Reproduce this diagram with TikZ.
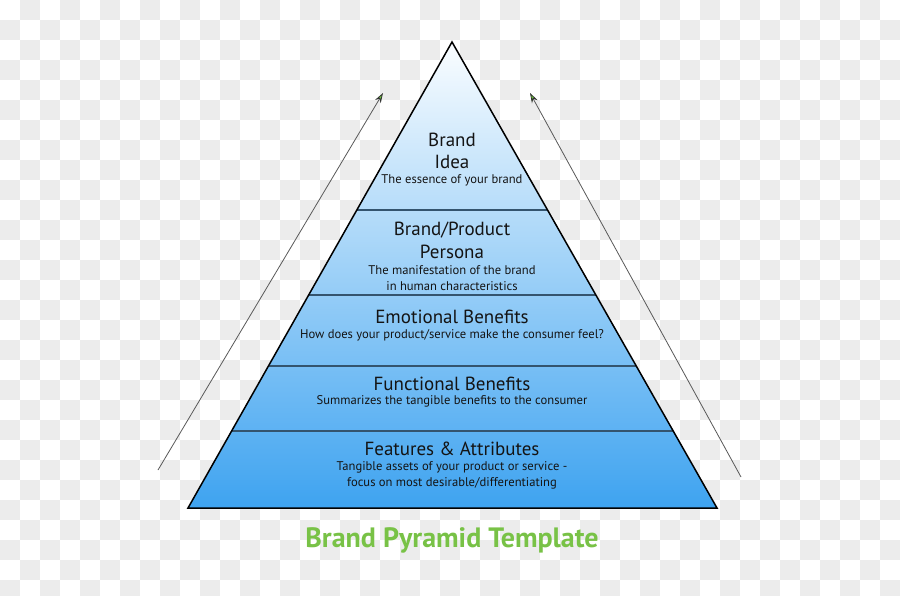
\documentclass[tikz,border=0pt]{standalone}
\usepackage{fontspec}
\setmainfont{PT Sans}
\usetikzlibrary{arrows.meta,calc}
\definecolor{chk}{RGB}{236,236,236}
\definecolor{pyrtop}{RGB}{250,253,255}
\definecolor{pyrbot}{RGB}{62,163,240}
\definecolor{divider}{RGB}{52,84,110}
\definecolor{titlegreen}{RGB}{120,194,70}
\definecolor{arrowgreen}{RGB}{110,200,60}
\definecolor{txt}{RGB}{20,20,20}
\tikzset{
  head/.style={font=\fontsize{19}{21}\selectfont, text=txt, inner sep=0pt, anchor=center},
  sub/.style={font=\fontsize{12.6}{14}\selectfont, text=txt, inner sep=0pt, anchor=center},
  divline/.style={draw=divider, line width=1.8pt},
  sidearrow/.style={draw=black!65, line width=0.8pt,
    -{Stealth[length=10pt,width=6.5pt,color=black!80,fill=arrowgreen]}},
}
\begin{document}
\begin{tikzpicture}[x=1pt,y=-1pt]
\useasboundingbox (0,0) rectangle (900,595);
% checkerboard background
\fill[white] (0,0) rectangle (900,595);
\foreach \i in {0,...,44}{
  \foreach \j in {0,...,29}{
    \pgfmathtruncatemacro{\chkodd}{mod(\i+\j,2)}
    \ifnum\chkodd=1
      \fill[chk] (\i*20,\j*20) rectangle ++(20,20);
    \fi
  }
}
% pyramid
\coordinate (apex) at (452,42);
\coordinate (bl) at (188,508);
\coordinate (br) at (717,508);
\shade[top color=pyrtop, bottom color=pyrbot] (apex) -- (br) -- (bl) -- cycle;
% dividers
\foreach \t/\n in {0.3605/a,0.5429/b,0.6953/c,0.8348/d}{
  \coordinate (L\n) at ($(apex)!\t!(bl)$);
  \coordinate (R\n) at ($(apex)!\t!(br)$);
  \draw[divline] (L\n) -- (R\n);
}
\draw[black, line width=1.5pt, line join=miter] (apex) -- (br) -- (bl) -- cycle;
% side arrows
\coordinate (la0) at (158,470);
\coordinate (la1) at (383,93);
\coordinate (ra0) at (741,477);
\coordinate (ra1) at (530,93);
\draw[sidearrow] (la0) -- (la1);
\draw[sidearrow] (ra0) -- (ra1);
% texts
\node[head] (t1a) at (452,140) {Brand};
\node[head] (t1b) at (452,162) {Idea};
\node[sub]  (t1c) at (452,180) {The essence of your brand};
\node[head] (t2a) at (452,230) {Brand/Product};
\node[head] (t2b) at (452,252) {Persona};
\node[sub]  (t2c) at (452,270) {The manifestation of the brand};
\node[sub]  (t2d) at (452,286) {in human characteristics};
\node[head] (t3a) at (452,317) {Emotional Benefits};
\node[sub]  (t3b) at (452,335) {How does your product/service make the consumer feel?};
\node[head] (t4a) at (452,384) {Functional Benefits};
\node[sub]  (t4b) at (452,401) {Summarizes the tangible benefits to the consumer};
\node[head] (t5a) at (452,449) {Features \& Attributes};
\node[sub]  (t5b) at (452,467) {Tangible assets of your product or service -};
\node[sub]  (t5c) at (452,483) {focus on most desirable/differentiating};
\node[font=\bfseries\fontsize{28}{31}\selectfont, text=titlegreen, inner sep=0pt] (title) at (452,540) {Brand Pyramid Template};
\end{tikzpicture}
\end{document}
